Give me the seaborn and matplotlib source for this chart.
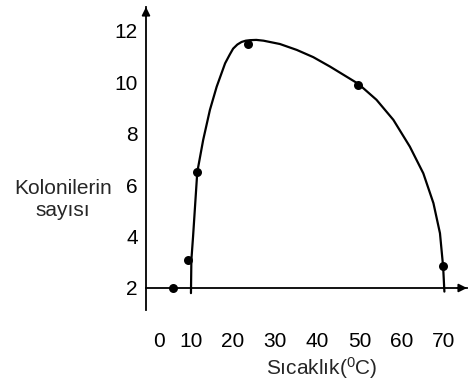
import matplotlib
matplotlib.use("Agg")
import matplotlib.pyplot as plt
import matplotlib.transforms as mtransforms
import seaborn as sns
import pandas as pd

# Data
point_x = [5.7, 9.3, 11.4, 23.6, 49.6, 69.8]
point_y = [2.0, 3.1, 6.5, 11.49, 9.9, 2.85]

curve_x = [10.0, 10.1, 10.5, 11.5, 12.9, 14.5, 16.1, 18.1, 19.2, 20.0, 21.0, 22.0,
           23.0, 24.0, 25.5, 27.2, 31.1, 35.1, 39.0, 43.0, 46.9, 49.7, 54.0,
           58.0, 61.9, 65.1, 67.5, 69.05, 69.8, 70.1]
curve_y = [1.8, 3.09, 4.0, 6.51, 7.76, 8.93, 9.83, 10.74, 11.08, 11.31, 11.47, 11.57,
           11.62, 11.64, 11.65, 11.62, 11.49, 11.26, 10.98, 10.61, 10.22, 9.94, 9.32,
           8.54, 7.50, 6.46, 5.30, 4.13, 2.83, 1.86]

x_ticks = [0, 10, 20, 30, 40, 50, 60, 70]
y_ticks = [2, 4, 6, 8, 10, 12]
x_label = "Sıcaklık($^{0}$C)"
y_label = "Kolonilerin\nsayısı"

sns.set_style("white")
plt.rcParams["font.family"] = ["Liberation Sans", "DejaVu Sans"]
plt.rcParams["mathtext.fontset"] = "custom"
plt.rcParams["mathtext.rm"] = "Liberation Sans"
plt.rcParams["mathtext.it"] = "Liberation Sans"

FS = 15

fig = plt.figure(figsize=(4.68, 3.82), dpi=100)
ax = fig.add_axes([146 / 468, 72 / 382, 321 / 468, 303 / 382])

curve = pd.DataFrame({"x": curve_x, "y": curve_y})
pts = pd.DataFrame({"x": point_x, "y": point_y})

sns.lineplot(data=curve, x="x", y="y", sort=False, estimator=None,
             color="black", lw=1.6, ax=ax, clip_on=False)
sns.scatterplot(data=pts, x="x", y="y", color="black", s=42,
                edgecolor="black", linewidth=0, ax=ax, zorder=5, clip_on=False)

ax.set_xlim(-0.66, 75.46)
ax.set_ylim(1.144, 12.93)

for s in ["top", "right"]:
    ax.spines[s].set_visible(False)
ax.spines["bottom"].set_position(("data", 2))
ax.spines["left"].set_position(("axes", 0))
for s in ["bottom", "left"]:
    ax.spines[s].set_color("black")
    ax.spines[s].set_linewidth(1.3)

# arrow heads
ax.annotate("", xy=(1.0, 2), xytext=(0.97, 2),
            xycoords=ax.get_yaxis_transform(), textcoords=ax.get_yaxis_transform(),
            arrowprops=dict(arrowstyle="-|>", color="black", lw=1.3,
                            mutation_scale=12, shrinkA=0, shrinkB=0))
ax.annotate("", xy=(0, 1.0), xytext=(0, 0.97),
            xycoords="axes fraction", textcoords="axes fraction",
            arrowprops=dict(arrowstyle="-|>", color="black", lw=1.3,
                            mutation_scale=12, shrinkA=0, shrinkB=0))

ax.set_xticks(x_ticks)
ax.set_xticklabels([str(v) for v in x_ticks])
ax.set_yticks(y_ticks)
ax.set_yticklabels([str(v) for v in y_ticks])
ax.tick_params(axis="both", length=0, labelsize=FS, colors="black")
ax.tick_params(axis="x", pad=32)
ax.tick_params(axis="y", pad=6)

# shift the "0" label to the right as in the reference
lab0 = ax.get_xticklabels()[0]
lab0.set_transform(lab0.get_transform() +
                   mtransforms.ScaledTranslation(10 / 100, 0, fig.dpi_scale_trans))

ax.set_xlabel("")
ax.set_ylabel("")

fig.text(322 / 468, 1 - 375 / 382, x_label, ha="center", va="baseline", fontsize=15)
fig.text(63 / 468, 1 - 200 / 382, y_label, ha="center", va="center",
         fontsize=FS, multialignment="center", linespacing=1.2)

fig.savefig("out.png", dpi=100)
